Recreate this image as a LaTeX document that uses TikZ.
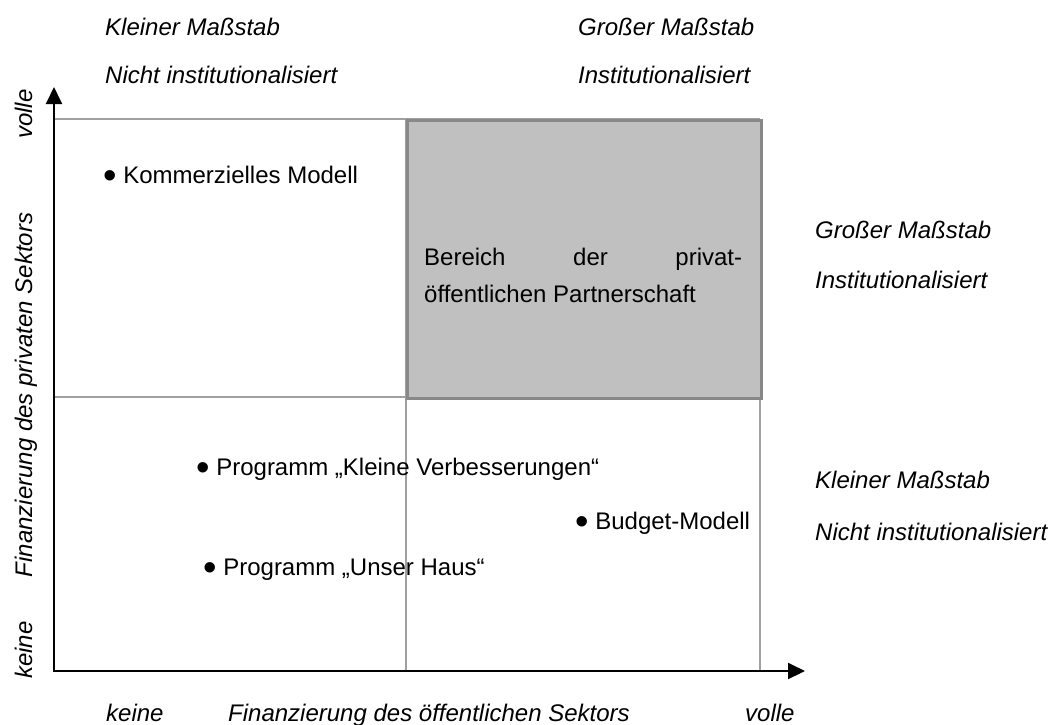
\documentclass[tikz,border=0pt]{standalone}
\usepackage{fontspec}
\setmainfont{Liberation Sans}
\usetikzlibrary{arrows.meta}
\definecolor{gridgray}{HTML}{A0A0A0}
\definecolor{boxfill}{HTML}{C0C0C0}
\definecolor{boxedge}{HTML}{888888}
\newcommand{\bigbul}{\raisebox{-5.7pt}{\scalebox{1.6}{•}}}
\begin{document}
\begin{tikzpicture}[x=1pt,y=-1pt,
  lbl/.style={inner sep=0pt, font=\fontsize{24}{37}\selectfont\itshape},
  txt/.style={inner sep=0pt, font=\fontsize{24}{37}\selectfont},
  gridline/.style={draw=gridgray, line width=1.3pt},
  axis/.style={line width=2pt, -{Triangle[length=17pt,width=16pt]}}]
\useasboundingbox (0,0) rectangle (1048,724);

% grid
\draw[gridline] (54,119) -- (760,119);
\draw[gridline] (54,397) -- (760,397);
\draw[gridline] (406,119) -- (406,671);
\draw[gridline] (760,119) -- (760,671);

% shaded region
\node[draw=boxedge, fill=boxfill, line width=2.5pt, inner sep=0pt,
      minimum width=354pt, minimum height=278pt, anchor=north west] (ppp) at (406,119) {};
\node[txt, text width=318pt, align=justify, anchor=base west] (ppptext) at (424,265)
  {Bereich der privat-\linebreak öffentlichen Partnerschaft};

% axes
\coordinate (O) at (54,671);
\coordinate (Ytip) at (54,87);
\coordinate (Xtip) at (805,671);
\draw[axis] (O) -- (Ytip);
\draw[axis] ([xshift=-1pt]O) -- (Xtip);

% column headers
\node[lbl, anchor=base west] (tl1) at (105,35) {Kleiner Maßstab};
\node[lbl, anchor=base west] (tl2) at (105,83) {Nicht institutionalisiert};
\node[lbl, anchor=base west] (tr1) at (578,35) {Großer Maßstab};
\node[lbl, anchor=base west] (tr2) at (578,83) {Institutionalisiert};

% row headers
\node[lbl, anchor=base west] (r1) at (815,238) {Großer Maßstab};
\node[lbl, anchor=base west] (r2) at (815,288) {Institutionalisiert};
\node[lbl, anchor=base west] (r3) at (815,488) {Kleiner Maßstab};
\node[lbl, anchor=base west] (r4) at (815,540) {Nicht institutionalisiert};

% items
\node[txt, anchor=base west] (komm) at (103,183) {\bigbul\ Kommerzielles Modell};
\node[txt, anchor=base west] (klein) at (196,475) {\bigbul\ Programm „Kleine Verbesserungen“};
\node[txt, anchor=base west] (haus) at (203,575) {\bigbul\ Programm „Unser Haus“};
\node[txt, anchor=base west] (budget) at (575,529) {\bigbul\ Budget-Modell};

% axis labels
\node[lbl, anchor=base west, rotate=90] (yvolle) at (32,139) {volle};
\node[lbl, anchor=base, rotate=90] (ylabel) at (32,395) {Finanzierung des privaten Sektors};
\node[lbl, anchor=base west, rotate=90] (ykeine) at (32,679) {keine};
\node[lbl, anchor=base west] (xkeine) at (106,721) {keine};
\node[lbl, anchor=base west] (xlabel) at (228,721) {Finanzierung des öffentlichen Sektors};
\node[lbl, anchor=base west] (xvolle) at (745,721) {volle};
\end{tikzpicture}
\end{document}
